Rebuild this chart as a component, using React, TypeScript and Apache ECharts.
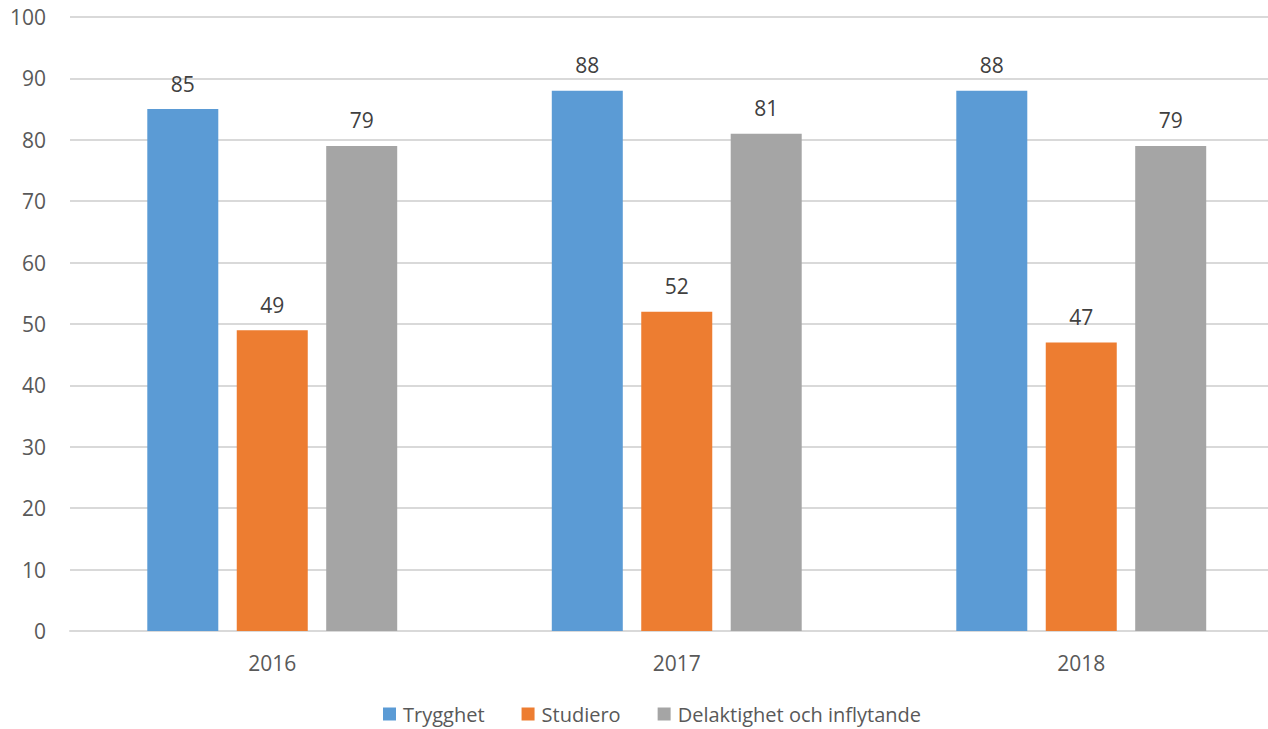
import React, { useEffect, useRef } from "react";
import * as echarts from "echarts";

const categories = ["2016", "2017", "2018"];
const trygghet = [85, 88, 88];
const studiero = [49, 52, 47];
const delaktighet = [79, 81, 79];
const seriesNames = ["Trygghet", "Studiero", "Delaktighet och inflytande"];
const colors = ["#5B9BD5", "#ED7D31", "#A5A5A5"];

const FONT = "Open Sans";

export default function App() {
  const ref = useRef<HTMLDivElement>(null);
  useEffect(() => {
    if (!ref.current) return;
    const chart = echarts.init(ref.current, undefined, { renderer: "svg" });
    const values = [trygghet, studiero, delaktighet];
    chart.setOption({
      animation: false,
      backgroundColor: "#ffffff",
      textStyle: { fontFamily: FONT },
      grid: { left: 70, right: 0.5, top: 17, bottom: 98, containLabel: false },
      legend: {
        left: 383,
        top: 704,
        padding: 0,
        itemWidth: 13,
        itemHeight: 13,
        itemGap: 37,
        icon: "rect",
        textStyle: {
          fontFamily: FONT,
          fontSize: 20,
          lineHeight: 20,
          color: "#595959",
          padding: [0, 0, 0, 2],
        },
        data: seriesNames,
      },
      xAxis: {
        type: "category",
        data: categories,
        axisLine: { lineStyle: { color: "#D9D9D9", width: 2 } },
        axisTick: { show: false },
        axisLabel: { fontFamily: FONT, fontSize: 21, color: "#595959", margin: 21 },
      },
      yAxis: {
        type: "value",
        min: 0,
        max: 100,
        interval: 10,
        axisLine: { show: false },
        axisTick: { show: false },
        splitLine: { lineStyle: { color: "#D9D9D9", width: 2 } },
        axisLabel: { fontFamily: FONT, fontSize: 21, color: "#595959", margin: 24 },
      },
      series: seriesNames.map((name, i) => ({
        name,
        type: "bar",
        data: values[i],
        barWidth: 71,
        barGap: "26%",
        itemStyle: { color: colors[i] },
        label: {
          show: true,
          position: "top",
          distance: 15,
          fontFamily: FONT,
          fontSize: 21,
          color: "#404040",
        },
      })),
    });
    return () => chart.dispose();
  }, []);
  return (
    <div style={{ position: "absolute", left: 0, top: 0, width: 1268, height: 729, overflow: "hidden" }}>
      <div ref={ref} style={{ width: 1284, height: 729 }} />
    </div>
  );
}
